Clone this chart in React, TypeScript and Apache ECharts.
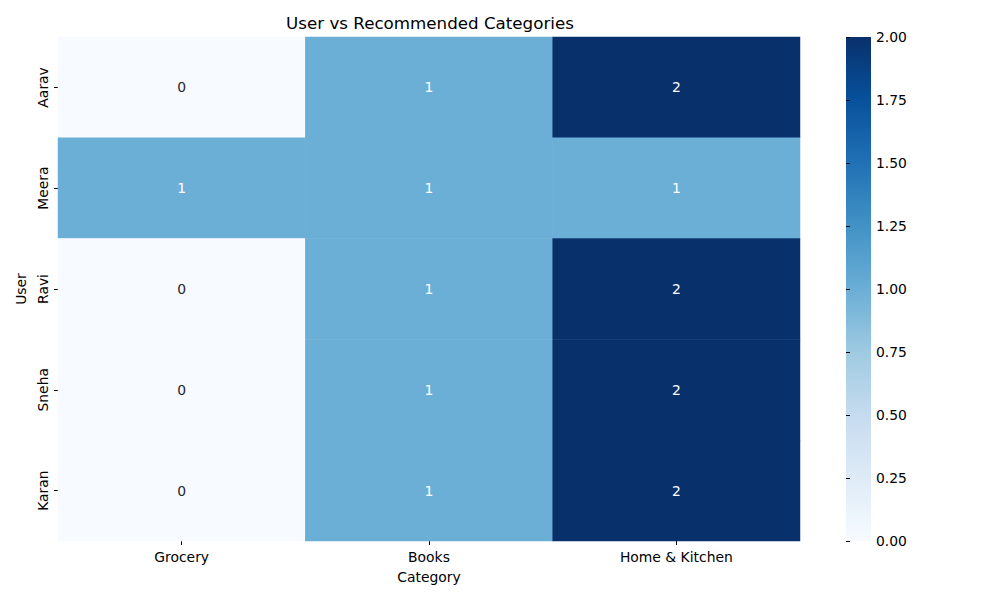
import React, { useEffect, useRef } from "react";
import * as echarts from "echarts";

const categories = ["Grocery", "Books", "Home & Kitchen"];
const users = ["Aarav", "Meera", "Ravi", "Sneha", "Karan"];
const values: number[][] = [
  [0, 1, 2],
  [1, 1, 1],
  [0, 1, 2],
  [0, 1, 2],
  [0, 1, 2],
];
const colorbarTicks = [0, 0.25, 0.5, 0.75, 1, 1.25, 1.5, 1.75, 2];
const blues = ["#f7fbff", "#deebf7", "#c6dbef", "#9ecae1", "#6baed6", "#4292c6", "#2171b5", "#08519c", "#08306b"];

const FONT = "DejaVu Sans";
const FS = 13.9;

export default function App() {
  const ref = useRef<HTMLDivElement>(null);
  useEffect(() => {
    if (!ref.current) return;
    const chart = echarts.init(ref.current, null, { renderer: "svg" });
    const data: any[] = [];
    users.forEach((u, yi) => {
      categories.forEach((c, xi) => {
        const v = values[yi][xi];
        data.push({
          value: [xi, yi, v],
          label: { color: v >= 1 ? "#ffffff" : "#262626" },
        });
      });
    });
    const gridL = 58, gridT = 37, gridW = 742, gridH = 504;
    const cbL = 846, cbW = 25;
    chart.setOption({
      animation: false,
      backgroundColor: "#ffffff",
      textStyle: { fontFamily: FONT },
      title: {
        text: "User vs Recommended Categories",
        left: gridL + gridW / 2 - 4,
        textAlign: "center",
        top: 9,
        textStyle: { fontFamily: FONT, fontSize: 16.7, fontWeight: "normal", color: "#000" },
      },
      grid: [
        { left: gridL, top: gridT, width: gridW, height: gridH },
        { left: cbL, top: gridT, width: cbW, height: gridH },
      ],
      xAxis: [
        {
          type: "category",
          data: categories,
          gridIndex: 0,
          name: "Category",
          nameLocation: "middle",
          nameGap: 29,
          nameTextStyle: { fontFamily: FONT, fontSize: FS, color: "#000" },
          axisLine: { show: false },
          axisTick: { show: true, alignWithLabel: true, length: 4, lineStyle: { color: "#000" } },
          axisLabel: { fontFamily: FONT, fontSize: FS, color: "#000", margin: 9 },
          splitLine: { show: false },
        },
        { type: "value", gridIndex: 1, show: false, min: 0, max: 1 },
      ],
      yAxis: [
        {
          type: "category",
          data: users,
          inverse: true,
          gridIndex: 0,
          name: "User",
          nameLocation: "middle",
          nameGap: 30,
          nameRotate: 90,
          nameTextStyle: { fontFamily: FONT, fontSize: FS, color: "#000" },
          axisLine: { show: false },
          axisTick: { show: true, alignWithLabel: true, length: 4, lineStyle: { color: "#000" } },
          axisLabel: { fontFamily: FONT, fontSize: FS, color: "#000", rotate: 90, margin: 8 },
          splitLine: { show: false },
        },
        {
          type: "value",
          gridIndex: 1,
          position: "right",
          min: colorbarTicks[0],
          max: colorbarTicks[colorbarTicks.length - 1],
          interval: 0.25,
          axisLine: { show: false },
          axisTick: { show: true, length: 4, lineStyle: { color: "#000" } },
          axisLabel: {
            fontFamily: FONT,
            fontSize: FS,
            color: "#000",
            margin: 5,
            formatter: (v: number) => v.toFixed(2),
          },
          splitLine: { show: false },
        },
      ],
      visualMap: {
        show: false,
        min: 0,
        max: 2,
        dimension: 2,
        seriesIndex: 0,
        inRange: { color: blues },
      },
      graphic: [
        {
          type: "rect",
          shape: { x: cbL, y: gridT, width: cbW, height: gridH },
          style: {
            fill: new echarts.graphic.LinearGradient(
              0, 1, 0, 0,
              blues.map((c, i) => ({ offset: i / (blues.length - 1), color: c }))
            ),
          },
          z: -1,
        },
      ],
      series: [
        {
          type: "heatmap",
          xAxisIndex: 0,
          yAxisIndex: 0,
          data,
          label: { show: true, fontFamily: FONT, fontSize: FS, formatter: (p: any) => String(p.value[2]) },
          itemStyle: { borderWidth: 0 },
          emphasis: { disabled: true },
        },
      ],
    });
    return () => chart.dispose();
  }, []);
  return (
    <div
      ref={ref}
      style={{ position: "absolute", left: 0, top: 0, width: 1000, height: 600 }}
    />
  );
}
